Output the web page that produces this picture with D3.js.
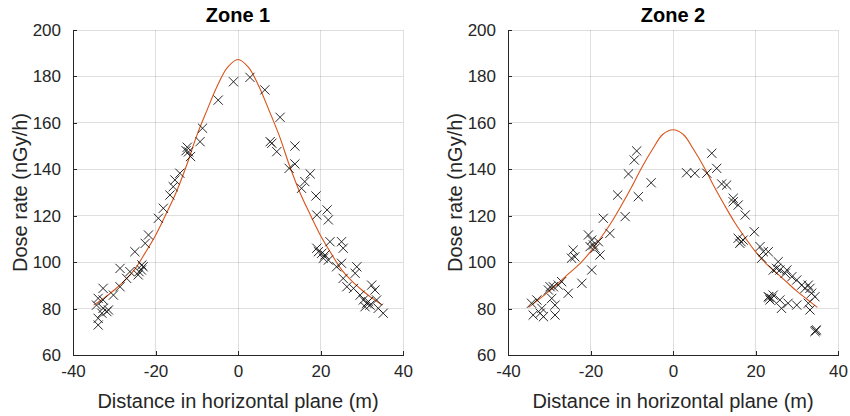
<!DOCTYPE html>
<html>
<head>
<meta charset="utf-8">
<script src="https://cdn.jsdelivr.net/npm/d3@7"></script>
<style>
  html, body { margin: 0; padding: 0; background: #fff; }
  svg { display: block; font-family: "Liberation Sans", Arial, Helvetica, sans-serif; }
</style>
</head>
<body>
<svg id="chart" width="850" height="416"></svg>
<script>
// Measured dose rates, zone 1 (distance m, dose nGy/h)
const zone1X = [-1.1, -4.8, -8.6, -9.2, -12.3, -12.0, -11.5, -12.6, -14.1, -15.3, -15.7, -16.5, -18.1, -19.3,
  -21.7, -22.5, -25, -28.6, -23.3, -23.0, -23.4, -24.0, -24.2, -26.2, -27, -28.6, -30.2, -32.7, -33.9, -34.3,
  -32.7, -31.8, -33, -33.9, -33.9, -31.4, -32.7,
  2.9, 6.5, 10.2, 7.8, 8.2, 9.4, 13.8, 12.4, 13.8, 17.5, 16.2, 15.4, 18.9, 21.6, 19.1, 21.9, 22.3, 25.1, 25.5,
  19.1, 19.5, 20.3, 21.1, 20.7, 21.9, 23.9, 25.1, 28.8, 28.4, 25.5, 26.4, 28, 29.6, 32.4, 33.2, 30.4, 31.2,
  32, 30.8, 31.6, 33.6, 34, 35.2];
const zone1Y = [177.7, 169.8, 157.7, 151.9, 149.5, 147.5, 145.5, 148, 138.3, 135.4, 132.5, 128.9, 123.2, 118.9,
  111.7, 108.1, 104.5, 97.3, 98.8, 98.0, 96.6, 95.9, 94.5, 95.9, 93, 89.4, 85.8, 88.7, 84.4, 81.5,
  80.1, 78.7, 78, 72.9, 75.8, 79.4, 83.7,
  179.6, 174.2, 162.4, 151.9, 151.2, 147.6, 150, 140.4, 142.3, 138, 134.7, 131.8, 128.5, 122.5, 120.3, 118.2, 108.8, 108.8, 106,
  106, 104.5, 103.8, 103.1, 101.7, 100.9, 98, 99.5, 98, 95.2, 93, 89.4, 88.7, 85.8, 90.1, 88, 83.7, 82.3,
  81.5, 80.8, 83, 83.7, 80.1, 78];

// Measured dose rates, zone 2
const zone2X = [-8.8, -9.4, -10.8, -5.3, -13.4, -8.4, -16.9, -11.6, -20.5, -19.7, -19.3, -18.9, -20.1, -15.3,
  -18.1, -17.7, -24.2, -23.8, -24.6, -19.7, -22.1, -25.4, -27, -27.8, -29, -30.2, -29.8, -29.4, -28.6, -28.6,
  -34.3, -33, -31.8, -32.2, -33.9, -31.4,
  9.4, 10.6, 3.3, 5.3, 8.2, 11.8, 13, 14.6, 14.6, 15.8, 17.5, 19.7, 15.8, 16.5, 16.2, 17, 21.1, 21.9, 23.1,
  21.5, 25.5, 25.1, 25.9, 24.3, 27.6, 27.2, 28.8, 30, 31.2, 32.8, 33.2, 32, 33.6, 34.4, 23.1, 23.9, 23.5,
  24.3, 23.3, 25.9, 26.3, 27.9, 30, 32.8, 33.2, 34.4, 34.8, 34.6];
const zone2Y = [147.9, 144, 138, 134.2, 128.9, 128.2, 118.9, 119.6, 111.7, 109.5, 107.4, 106, 106.7, 112.4,
  108.8, 103.1, 105.2, 102.3, 101.7, 96.6, 90.9, 86.6, 91.6, 90.1, 89.4, 88, 89.4, 84.4, 81.5, 77.2,
  82.3, 83.7, 80.1, 78, 77.2, 76.5,
  146.9, 140.4, 138.5, 138.3, 138.3, 133.7, 133.2, 127.5, 126, 124.6, 120.3, 113.1, 110.3, 108.8, 108.1, 109.5, 106.7, 104.5, 104.5,
  101.7, 100.2, 97.3, 96.6, 96.6, 96.6, 95.2, 93.7, 92.3, 90.1, 90.1, 88.7, 88.7, 86.6, 85.1, 85.1, 84.4, 83.7,
  85.8, 84.8, 83.7, 80.1, 82.3, 81.5, 82.3, 79.4, 70.1, 70.8, 70.5];

// Fitted model curves, sampled along the distance axis
const fitX  = [-35, -32.5, -30, -27.5, -25, -22.5, -20, -17.5, -15, -12.5, -10, -7.5, -5, -2.5, 0,
  2.5, 5, 7.5, 10, 12.5, 15, 17.5, 20, 22.5, 25, 27.5, 30, 32.5, 35];
const fit1Y = [81.5, 84.5, 88, 92, 97, 104, 111.5, 120.5, 130, 141.5, 154.5, 165.5, 176, 184, 187.3,
  184, 176, 165.5, 154.5, 141.5, 130, 120.5, 111.5, 104, 97, 92, 88, 84.5, 81.5];
const fit2Y = [80.5, 84, 87.5, 91.5, 95.5, 99.5, 104.5, 110.5, 117, 124.5, 132.5, 141, 148.5, 155, 157,
  155, 148.5, 141, 132.5, 124.5, 117, 110.5, 104.5, 99.5, 95.5, 91.5, 87.5, 84, 80.5];

const xTicks = [-40, -20, 0, 20, 40];
const yTicks = [60, 80, 100, 120, 140, 160, 180, 200];
const titles = ["Zone 1", "Zone 2"];
const xLabel = "Distance in horizontal plane (m)";
const yLabel = "Dose rate (nGy/h)";

const svg = d3.select("#chart");
const axisColor = "#262626";

const panels = [
  { left: 73, right: 403, xs: zone1X, ys: zone1Y, fit: fit1Y, title: titles[0] },
  { left: 508, right: 838, xs: zone2X, ys: zone2Y, fit: fit2Y, title: titles[1] }
];
const plotTop = 30, plotBottom = 355;
const plainNumber = d => String(d);   // ASCII hyphen for negatives

panels.forEach(p => {
  const x = d3.scaleLinear().domain([-40, 40]).range([p.left, p.right]);
  const y = d3.scaleLinear().domain([60, 200]).range([plotBottom, plotTop]);
  const g = svg.append("g");

  // grid
  g.append("g").selectAll("line").data(xTicks).join("line")
    .attr("x1", d => x(d)).attr("x2", d => x(d))
    .attr("y1", plotTop).attr("y2", plotBottom)
    .attr("stroke", axisColor).attr("stroke-opacity", 0.15).attr("stroke-width", 1)
    .attr("shape-rendering", "crispEdges");
  g.append("g").selectAll("line").data(yTicks).join("line")
    .attr("x1", p.left).attr("x2", p.right)
    .attr("y1", d => y(d)).attr("y2", d => y(d))
    .attr("stroke", axisColor).attr("stroke-opacity", 0.15).attr("stroke-width", 1)
    .attr("shape-rendering", "crispEdges");

  // axes with inward ticks
  const xAxis = g.append("g").attr("transform", `translate(0,${plotBottom})`)
    .call(d3.axisBottom(x).tickValues(xTicks).tickFormat(plainNumber)
      .tickSizeInner(-4).tickSizeOuter(0).tickPadding(10));
  const yAxis = g.append("g").attr("transform", `translate(${p.left},0)`)
    .call(d3.axisLeft(y).tickValues(yTicks).tickFormat(plainNumber)
      .tickSizeInner(-4).tickSizeOuter(0).tickPadding(12));
  [xAxis, yAxis].forEach(a => {
    a.select(".domain").attr("stroke", axisColor).attr("shape-rendering", "crispEdges");
    a.selectAll(".tick line").attr("stroke", axisColor).attr("shape-rendering", "crispEdges");
    a.selectAll(".tick text").attr("fill", axisColor)
      .style("font-size", "17px").style("font-family", "'Liberation Sans', Arial, sans-serif");
  });

  // fitted curve
  const line = d3.line().x((d, i) => x(fitX[i])).y(d => y(d)).curve(d3.curveCatmullRom);
  g.append("path").datum(p.fit).attr("d", line)
    .attr("fill", "none").attr("stroke", "#D95319").attr("stroke-width", 1.1);

  // measurement markers
  const s = 4.6;
  g.append("g").selectAll("path").data(p.xs).join("path")
    .attr("transform", (d, i) => `translate(${x(d)},${y(p.ys[i])})`)
    .attr("d", `M${-s},${-s}L${s},${s}M${-s},${s}L${s},${-s}`)
    .attr("stroke", "#111").attr("stroke-width", 0.9).attr("fill", "none");

  // labels
  const cx = (p.left + p.right) / 2;
  g.append("text").attr("x", cx).attr("y", 22).attr("text-anchor", "middle")
    .attr("font-size", 20).attr("font-weight", "bold").attr("fill", "#000").text(p.title);
  g.append("text").attr("x", cx).attr("y", 408).attr("text-anchor", "middle")
    .attr("font-size", 20).attr("fill", axisColor).text(xLabel);
  g.append("text")
    .attr("transform", `translate(${p.left - 46},${(plotTop + plotBottom) / 2}) rotate(-90)`)
    .attr("text-anchor", "middle").attr("font-size", 20).attr("fill", axisColor).text(yLabel);
});
</script>
</body>
</html>
